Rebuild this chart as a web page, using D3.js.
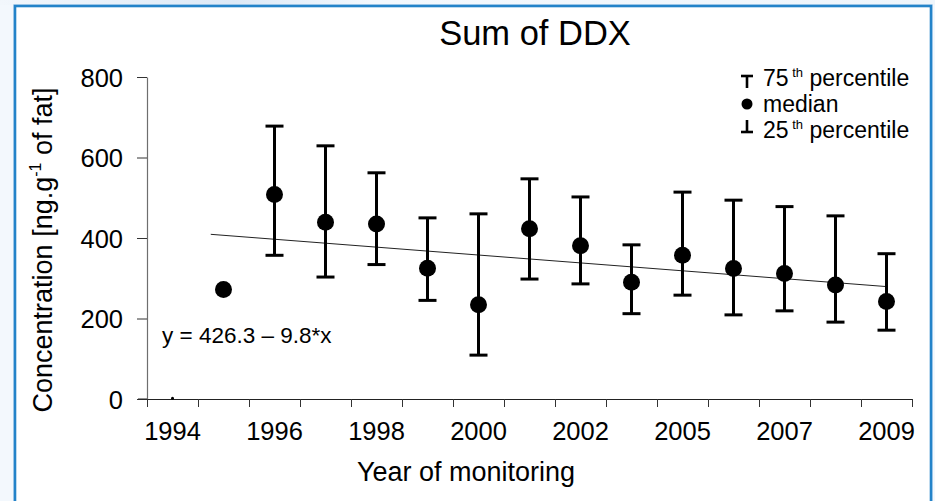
<!DOCTYPE html>
<html>
<head>
<meta charset="utf-8">
<title>Sum of DDX</title>
<script src="https://cdn.jsdelivr.net/npm/d3@7"></script>
<style>
  html, body { margin: 0; padding: 0; background: #f3f8fd; }
  body { font-family: "Liberation Sans", Arial, sans-serif; }
  svg { display: block; }
  .axis text { font-family: "Liberation Sans", Arial, sans-serif; fill: #000; }
</style>
</head>
<body>
<div id="chart"></div>
<script>
// values
var years  = ["1994", "1995", "1996", "1997", "1998", "1999", "2000", "2001",
              "2002", "2003", "2005", "2006", "2007", "2008", "2009"];
var median = [2, 272, 508, 439, 435, 325, 234, 423, 381, 290, 357, 324, 312, 283, 242];
var p75    = [null, null, 678, 629, 562, 450, 460, 547, 502, 383, 514, 494, 478, 455, 361];
var p25    = [null, null, 357, 303, 334, 245, 109, 298, 286, 212, 258, 209, 219, 191, 171];
var yTicks = [0, 200, 400, 600, 800];
// fitted line, x = index of the year (1 = 1994)
var trendA = 426.3;
var trendB = -9.8;
var trendX = [1.75, 15];

var width = 935;
var height = 501;

var svg = d3.select("#chart")
  .append("svg")
  .attr("width", width)
  .attr("height", height);

var defs = svg.append("defs");
var grad = defs.append("linearGradient")
  .attr("id", "bg")
  .attr("x1", "0").attr("y1", "0")
  .attr("x2", "1").attr("y2", "0");
grad.append("stop").attr("offset", "0").attr("stop-color", "#f2f7fc");
grad.append("stop").attr("offset", "0.25").attr("stop-color", "#dde9f6");
grad.append("stop").attr("offset", "0.4").attr("stop-color", "#f3f8fd");
grad.append("stop").attr("offset", "1").attr("stop-color", "#eef5fb");

// page background and framed panel
svg.append("rect").attr("width", width).attr("height", height).attr("fill", "#f3f8fd");
svg.append("rect").attr("x", 0).attr("y", 0).attr("width", width).attr("height", 5)
  .attr("fill", "url(#bg)");
svg.append("rect")
  .attr("x", 13.5).attr("y", 4.5)
  .attr("width", 919).attr("height", 520)
  .attr("fill", "none")
  .attr("stroke", "#cfe2f4")
  .attr("stroke-width", 1);
svg.append("rect")
  .attr("x", 15).attr("y", 6)
  .attr("width", 916).attr("height", 520)
  .attr("fill", "#fff")
  .attr("stroke", "#2383c9")
  .attr("stroke-width", 2.6);

var x = d3.scaleLinear().domain([0, years.length]).range([147, 912]);
var y = d3.scaleLinear().domain([0, 800]).range([399, 77]);

function cx(i) { return x(i + 0.5); }

// y axis
var yAxis = svg.append("g")
  .attr("class", "axis")
  .attr("transform", "translate(147,0)")
  .call(d3.axisLeft(y).tickValues(yTicks).tickSize(10).tickPadding(14).tickSizeOuter(0));
yAxis.select(".domain").attr("stroke", "#6e6e6e").attr("stroke-width", 1.2);
yAxis.selectAll(".tick line").attr("stroke", "#333");
yAxis.selectAll(".tick text").attr("font-size", "25.5px").attr("dy", "0.36em");

// x axis: ticks on category boundaries, labels on every other category
var xAxis = svg.append("g")
  .attr("class", "axis")
  .attr("transform", "translate(0,399)")
  .call(d3.axisBottom(x).tickValues(d3.range(0, years.length + 1)).tickFormat("")
    .tickSize(8).tickSizeOuter(0));
xAxis.select(".domain").attr("stroke", "#222").attr("stroke-width", 1.2);
xAxis.selectAll(".tick line").attr("stroke", "#333");

svg.append("line")
  .attr("x1", 138).attr("x2", 147)
  .attr("y1", y(0)).attr("y2", y(0))
  .attr("stroke", "#222");

var labelIdx = d3.range(0, years.length, 2);
svg.append("g").selectAll("text")
  .data(labelIdx)
  .enter()
  .append("text")
  .attr("x", function(i) { return cx(i); })
  .attr("y", 440)
  .attr("text-anchor", "middle")
  .attr("font-size", "25.5px")
  .text(function(i) { return years[i]; });

// titles
svg.append("text")
  .attr("x", 535).attr("y", 45)
  .attr("text-anchor", "middle")
  .attr("font-size", "34.5px")
  .text("Sum of DDX");

svg.append("text")
  .attr("x", 466).attr("y", 481)
  .attr("text-anchor", "middle")
  .attr("font-size", "27px")
  .text("Year of monitoring");

var yt = svg.append("text")
  .attr("transform", "translate(52,250) rotate(-90)")
  .attr("text-anchor", "middle")
  .attr("font-size", "27px");
yt.append("tspan").text("Concentration [ng.g");
yt.append("tspan").attr("font-size", "16px").attr("dy", "-11").text("-1");
yt.append("tspan").attr("dy", "11").text(" of fat]");

// trend line
var trendLine = d3.line()
  .x(function(d) { return x(d - 0.5); })
  .y(function(d) { return y(trendA + trendB * d); });
svg.append("path")
  .datum(trendX)
  .attr("d", trendLine)
  .attr("fill", "none")
  .attr("stroke", "#222")
  .attr("stroke-width", 1);

svg.append("text")
  .attr("x", 162).attr("y", 343)
  .attr("font-size", "22.5px")
  .text("y = 426.3 \u2013 9.8*x");

// error bars
var pts = years.map(function(yr, i) {
  return { i: i, med: median[i], hi: p75[i], lo: p25[i] };
});
var bars = svg.append("g").selectAll("g")
  .data(pts.filter(function(d) { return d.hi != null; }))
  .enter()
  .append("g")
  .attr("stroke", "#000")
  .attr("stroke-width", 3);
bars.append("line")
  .attr("x1", function(d) { return cx(d.i); })
  .attr("x2", function(d) { return cx(d.i); })
  .attr("y1", function(d) { return y(d.hi); })
  .attr("y2", function(d) { return y(d.lo); });
bars.append("line")
  .attr("x1", function(d) { return cx(d.i) - 9; })
  .attr("x2", function(d) { return cx(d.i) + 9; })
  .attr("y1", function(d) { return y(d.hi); })
  .attr("y2", function(d) { return y(d.hi); });
bars.append("line")
  .attr("x1", function(d) { return cx(d.i) - 9; })
  .attr("x2", function(d) { return cx(d.i) + 9; })
  .attr("y1", function(d) { return y(d.lo); })
  .attr("y2", function(d) { return y(d.lo); });

// medians
svg.append("g").selectAll("circle")
  .data(pts)
  .enter()
  .append("circle")
  .attr("cx", function(d) { return cx(d.i); })
  .attr("cy", function(d) { return y(d.med); })
  .attr("r", function(d) { return d.med < 20 ? 1.5 : 8.5; })
  .attr("fill", "#000");

// legend
var lg = svg.append("g").attr("stroke", "#000").attr("stroke-width", 2.6);
lg.append("line").attr("x1", 741).attr("x2", 753).attr("y1", 76).attr("y2", 76);
lg.append("line").attr("x1", 747).attr("x2", 747).attr("y1", 76).attr("y2", 88);
lg.append("line").attr("x1", 741).attr("x2", 753).attr("y1", 132).attr("y2", 132);
lg.append("line").attr("x1", 747).attr("x2", 747).attr("y1", 120).attr("y2", 132);
svg.append("circle").attr("cx", 747).attr("cy", 104).attr("r", 5.5).attr("fill", "#000");

var legendRows = [["75", " th", " percentile", 86], [null, null, "median", 112], ["25", " th", " percentile", 138]];
legendRows.forEach(function(r) {
  var t = svg.append("text")
    .attr("x", 763).attr("y", r[3])
    .attr("font-size", "23px");
  if (r[0] != null) {
    t.append("tspan").text(r[0]);
    t.append("tspan").attr("font-size", "13px").attr("dy", "-9").text(r[1]);
    t.append("tspan").attr("dy", "9").text(r[2]);
  } else {
    t.text(r[2]);
  }
});
</script>
</body>
</html>
